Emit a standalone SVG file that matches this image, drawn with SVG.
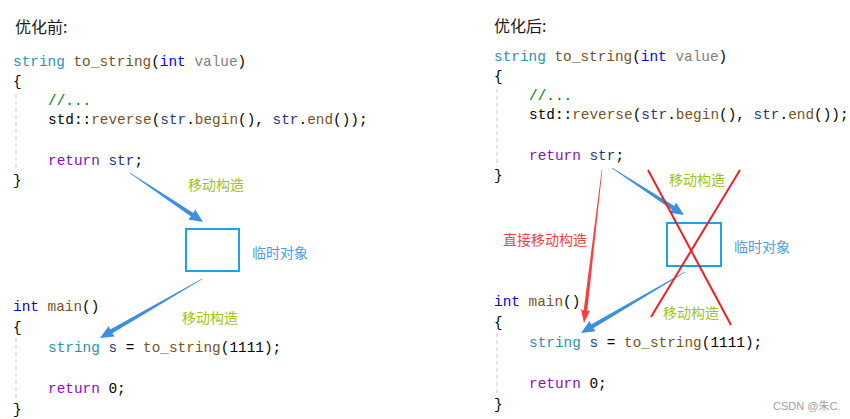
<svg xmlns="http://www.w3.org/2000/svg" width="850" height="419" viewBox="0 0 850 419">
<style>
.code{font-family:"Liberation Mono","DejaVu Sans Mono",monospace;font-size:14.4px;fill:#000}
.ty{fill:#2B91AF}.fn{fill:#74531F}.kw{fill:#0000FF}.pa{fill:#808080}.cm{fill:#008000}.rt{fill:#8F08C4}.lv{fill:#1F377F}
.title{font-family:"Noto Sans CJK SC","Noto Sans",sans-serif;font-size:16px;fill:#1a1a1a}
.lbl{font-family:"Noto Sans CJK SC","Noto Sans",sans-serif;font-size:14px}
.mv{fill:#9CC31E}.tmp{fill:#4D9DE0}.red{fill:#F04444}
.guide{stroke:#C8C8C8;stroke-width:1;stroke-dasharray:4 3;fill:none}
.box{fill:#fff;stroke:#1AA3E6;stroke-width:2}
.arrB{fill:#3D8FE0}.arrR{fill:#FF3B3B}
.cross{stroke:#F01E1E;stroke-width:2;fill:none}
.wm{font-family:"Liberation Sans","Noto Sans CJK SC",sans-serif;font-size:11px;fill:#A0A0A0}
</style>
<rect width="850" height="419" fill="#fff"/>

<g id="left-title"><text class="title" x="15" y="33">优化前:</text></g>
<g id="left-func">
<line class="guide" x1="16" y1="94" x2="16" y2="172"/>
<text class="code" x="13" y="66"><tspan class="ty">string</tspan> <tspan class="fn">to_string</tspan>(<tspan class="kw">int</tspan> <tspan class="pa">value</tspan>)</text>
<text class="code" x="13" y="86">{</text>
<text class="code cm" x="48" y="105">//...</text>
<text class="code" x="48" y="124">std::<tspan class="fn">reverse</tspan>(<tspan class="lv">str</tspan>.<tspan class="fn">begin</tspan>(), <tspan class="lv">str</tspan>.<tspan class="fn">end</tspan>());</text>
<text class="code" x="48" y="165"><tspan class="rt">return</tspan> <tspan class="lv">str</tspan>;</text>
<text class="code" x="13" y="185">}</text>
</g>
<g id="left-main">
<line class="guide" x1="16" y1="338" x2="16" y2="400"/>
<text class="code" x="13" y="311"><tspan class="kw">int</tspan> <tspan class="fn">main</tspan>()</text>
<text class="code" x="13" y="332">{</text>
<text class="code" x="48" y="352"><tspan class="ty">string</tspan> <tspan class="lv">s</tspan> = <tspan class="fn">to_string</tspan>(1111);</text>
<text class="code" x="48" y="393"><tspan class="rt">return</tspan> 0;</text>
<text class="code" x="13" y="414">}</text>
</g>
<g id="left-temp">
<rect class="box" x="186" y="229" width="53" height="42"/>
<text class="lbl tmp" x="252" y="258">临时对象</text>
</g>
<g id="left-label-move1"><text class="lbl mv" x="188" y="190">移动构造</text></g>
<g id="left-label-move2"><text class="lbl mv" x="182" y="323">移动构造</text></g>

<g id="right-title"><text class="title" x="494" y="32">优化后:</text></g>
<g id="right-func">
<line class="guide" x1="497" y1="89" x2="497" y2="167"/>
<text class="code" x="494" y="61"><tspan class="ty">string</tspan> <tspan class="fn">to_string</tspan>(<tspan class="kw">int</tspan> <tspan class="pa">value</tspan>)</text>
<text class="code" x="494" y="81">{</text>
<text class="code cm" x="529" y="100">//...</text>
<text class="code" x="529" y="119">std::<tspan class="fn">reverse</tspan>(<tspan class="lv">str</tspan>.<tspan class="fn">begin</tspan>(), <tspan class="lv">str</tspan>.<tspan class="fn">end</tspan>());</text>
<text class="code" x="529" y="160"><tspan class="rt">return</tspan> <tspan class="lv">str</tspan>;</text>
<text class="code" x="494" y="180">}</text>
</g>
<g id="right-main">
<line class="guide" x1="497" y1="333" x2="497" y2="395"/>
<text class="code" x="494" y="306"><tspan class="kw">int</tspan> <tspan class="fn">main</tspan>()</text>
<text class="code" x="494" y="327">{</text>
<text class="code" x="529" y="347"><tspan class="ty">string</tspan> <tspan class="lv">s</tspan> = <tspan class="fn">to_string</tspan>(1111);</text>
<text class="code" x="529" y="388"><tspan class="rt">return</tspan> 0;</text>
<text class="code" x="494" y="409">}</text>
</g>
<g id="right-temp">
<rect class="box" x="667" y="223" width="54" height="43"/>
<text class="lbl tmp" x="734" y="252">临时对象</text>
</g>
<g id="right-label-move1"><text class="lbl mv" x="669" y="185">移动构造</text></g>
<g id="right-label-move2"><text class="lbl mv" x="663" y="318">移动构造</text></g>
<g id="right-label-direct"><text class="lbl red" x="503" y="245">直接移动构造</text></g>

<g id="connectors">
<path class="arrB" transform="translate(130,173) rotate(33.87)" d="M0,-0.4 L74.9,-2.2 L74.4,-6 L87.9,0 L74.4,6 L74.9,2.2 L0,0.4Z"/>
<path class="arrB" transform="translate(202,279) rotate(149.96)" d="M0,-0.4 L104.8,-2.2 L104.3,-6 L117.8,0 L104.3,6 L104.8,2.2 L0,0.4Z"/>
<path class="arrB" transform="translate(612,168) rotate(33.13)" d="M0,-0.4 L73,-2.2 L72.5,-6 L86,0 L72.5,6 L73,2.2 L0,0.4Z"/>
<path class="arrB" transform="translate(685,272) rotate(149.61)" d="M0,-0.4 L107.6,-2.2 L107.1,-6 L120.6,0 L107.1,6 L107.6,2.2 L0,0.4Z"/>
<path class="arrR" transform="translate(602,170) rotate(96.71)" d="M0,-0.3 L141.6,-1.8 L141.1,-4.5 L154.1,0 L141.1,4.5 L141.6,1.8 L0,0.3Z"/>
</g>

<g id="cross">
<line class="cross" x1="648" y1="170" x2="731" y2="325"/>
<line class="cross" x1="740" y1="170" x2="651" y2="317"/>
</g>

<g id="watermark"><text class="wm" x="773" y="410">CSDN @朱C.</text></g>
</svg>
